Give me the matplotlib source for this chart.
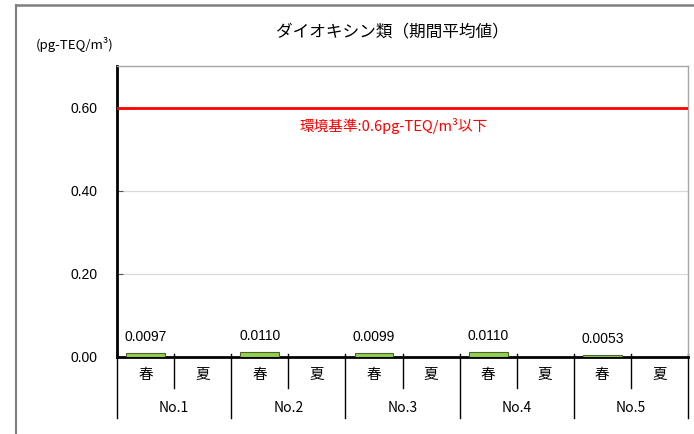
import matplotlib
matplotlib.use("Agg")
import matplotlib.pyplot as plt
from matplotlib.lines import Line2D
import numpy as np

plt.rcParams['font.family'] = ['Noto Sans CJK JP', 'DejaVu Sans']

# sampling points and seasons
points = ["No.1", "No.2", "No.3", "No.4", "No.5"]
seasons = ["春", "夏"]
spring = [0.0097, 0.0110, 0.0099, 0.0110, 0.0053]
summer = [None, None, None, None, None]
spring_labels = ["0.0097", "0.0110", "0.0099", "0.0110", "0.0053"]
standard = 0.6
yticks = [0.0, 0.2, 0.4, 0.6]

fig = plt.figure(figsize=(6.94, 4.34), dpi=100)
ax = fig.add_axes([117 / 694, 77 / 434, 571 / 694, 291 / 434])

# outer chart frame (left and top edges)
fx = 15.5 / 694
fy = 1 - 5 / 434
fig.add_artist(Line2D([fx, fx], [0, fy], transform=fig.transFigure, color="#7f7f7f", linewidth=1.5, zorder=10))
fig.add_artist(Line2D([fx, 1], [fy, fy], transform=fig.transFigure, color="#7f7f7f", linewidth=1.8, zorder=10))

n = len(points) * len(seasons)
x = np.arange(n) + 0.5
vals = []
for s, u in zip(spring, summer):
    vals.append(s)
    vals.append(u)

for xi, v in zip(x, vals):
    if v is None:
        continue
    ax.bar(xi, v, width=0.68, color="#92D050", edgecolor="#4F6228", linewidth=0.8, zorder=3)

for i, lab in enumerate(spring_labels):
    ax.text(x[2 * i], spring[i] + 0.022, lab, ha="center", va="bottom",
            fontsize=10, family=['Liberation Sans', 'DejaVu Sans'])

ax.set_xlim(0, n)
ax.set_ylim(0, 0.7)
ax.set_yticks(yticks)
ax.set_yticklabels(["%.2f" % t for t in yticks], family=['Liberation Sans', 'DejaVu Sans'])
ax.tick_params(axis="y", direction="in", length=4, color="#555555", labelsize=10, pad=14)
ax.set_xticks([])

for t in yticks[1:3]:
    ax.axhline(t, color="#d9d9d9", linewidth=0.9, zorder=1)

ax.axhline(standard, color="#ff0000", linewidth=2, zorder=4)
ax.text(4.85, standard - 0.045, "環境基準:0.6pg-TEQ/m³以下", color="#ff0000",
        ha="center", va="center", fontsize=10.5)

for side in ["top", "right"]:
    ax.spines[side].set_color("#a6a6a6")
    ax.spines[side].set_linewidth(1)
ax.spines["left"].set_linewidth(2)
ax.spines["bottom"].set_linewidth(2)

# two-level category axis below the plot
tr = ax.get_xaxis_transform()
h = 291.0
for k in range(n + 1):
    if k % 2 == 0:
        ax.plot([k, k], [3 / h, -61 / h], transform=tr, color="black", linewidth=1, clip_on=False)
    else:
        ax.plot([k, k], [3 / h, -31 / h], transform=tr, color="black", linewidth=1, clip_on=False)

for i, p in enumerate(points):
    for j, s in enumerate(seasons):
        ax.text(2 * i + j + 0.5, -18 / h, s, transform=tr, ha="center", va="center", fontsize=10.5)
    ax.text(2 * i + 1, -51 / h, p, transform=tr, ha="center", va="center", fontsize=10)

fig.text(392 / 694, 1 - 32 / 434, "ダイオキシン類（期間平均値）", ha="center", va="center", fontsize=12)
fig.text(75 / 694, 1 - 44 / 434, "(pg-TEQ/m³)", ha="center", va="center", fontsize=9.5)

fig.savefig("out.png", dpi=100)
